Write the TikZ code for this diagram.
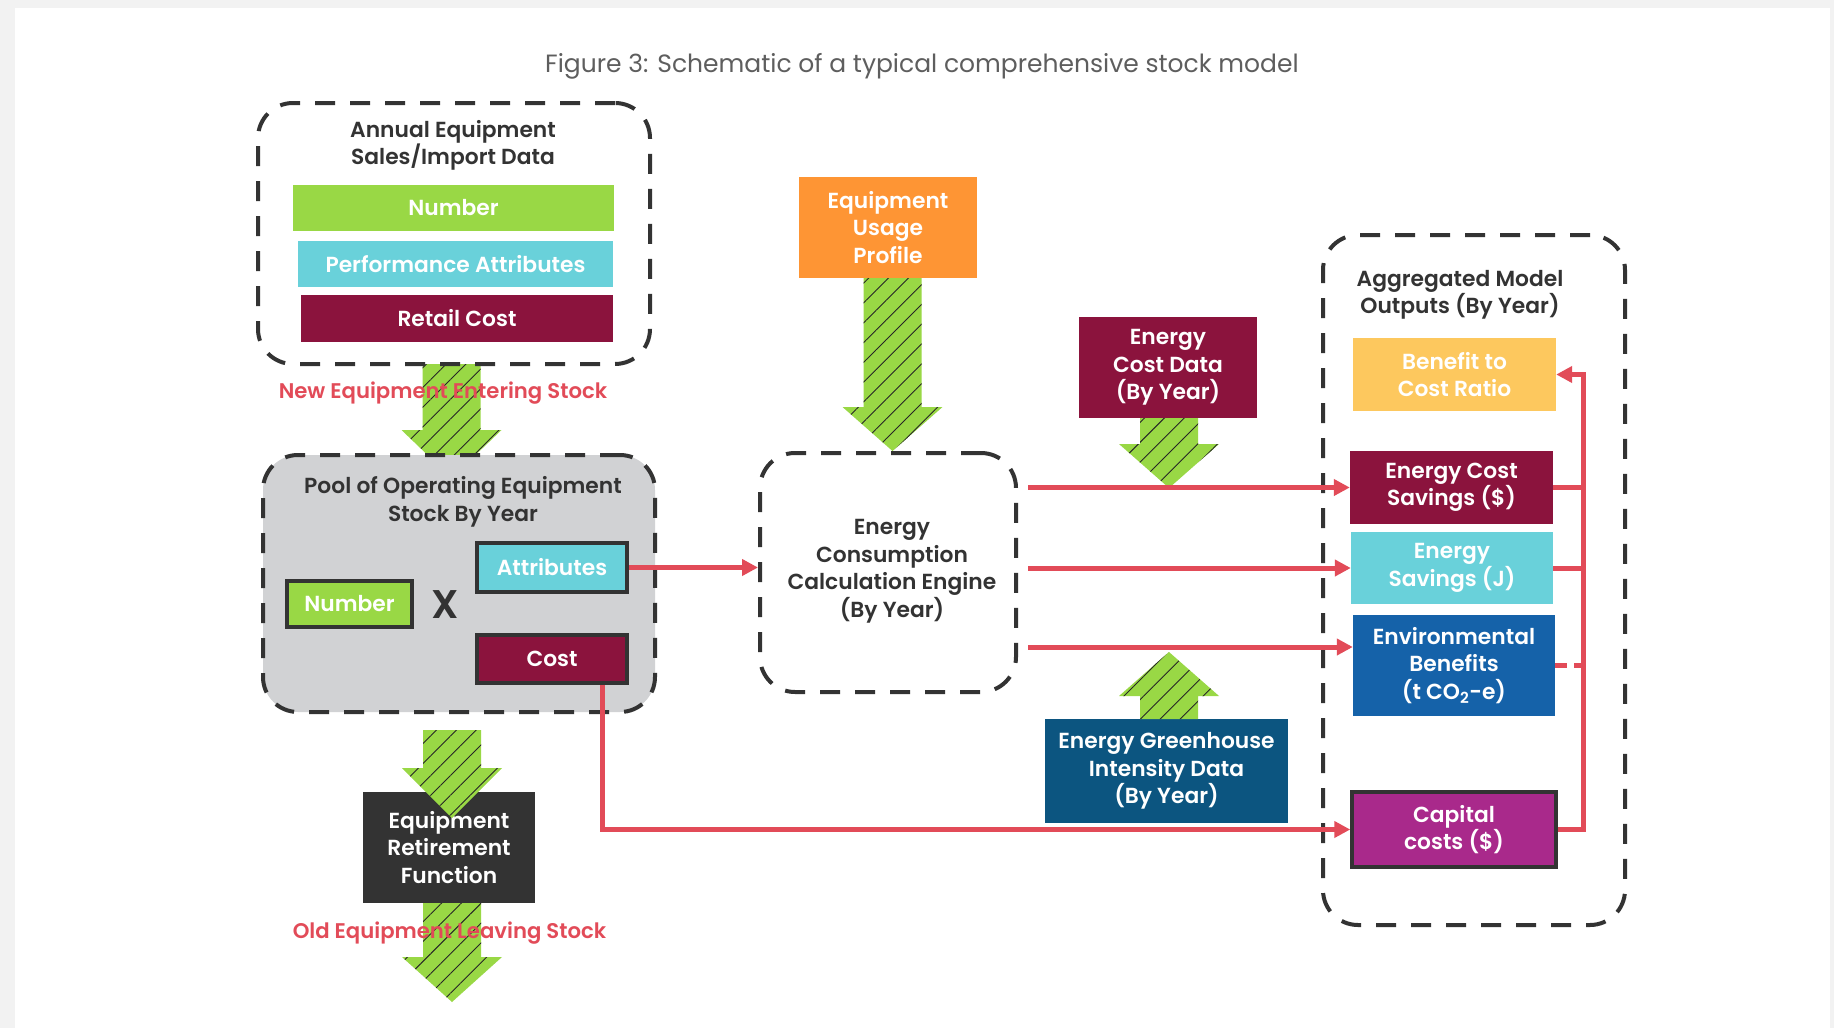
\documentclass[tikz,border=0pt]{standalone}
\usepackage{fontspec}
\setmainfont{Poppins}[BoldFont={Poppins SemiBold}]
\usetikzlibrary{calc}
\usetikzlibrary{arrows.meta}
\usetikzlibrary{patterns.meta}

\definecolor{pagegray}{HTML}{F2F2F2}
\definecolor{ink}{HTML}{333333}
\definecolor{capgray}{HTML}{5E5E5E}
\definecolor{leaf}{HTML}{99D845}
\definecolor{aqua}{HTML}{69D1DA}
\definecolor{wine}{HTML}{8B133D}
\definecolor{amber}{HTML}{FE9534}
\definecolor{honey}{HTML}{FDC85E}
\definecolor{petrol}{HTML}{0C5580}
\definecolor{cobalt}{HTML}{1562A9}
\definecolor{plum}{HTML}{A9298B}
\definecolor{poolgray}{HTML}{D1D2D4}
\definecolor{flowred}{HTML}{E24B58}

\begin{document}
\begin{tikzpicture}[x=1pt, y=-1pt,
    dbox/.style={draw=ink, line width=4pt, dash pattern=on 20pt off 15pt, rounded corners=35pt},
    heading/.style={font=\fontsize{21.8}{27.5}\selectfont\bfseries, text=ink, align=center},
    lab/.style={font=\fontsize{21.8}{27.5}\selectfont\bfseries, text=white, align=center, inner sep=0pt},
    framed/.style={draw=ink, line width=3.5pt},
    redtext/.style={font=\fontsize{21.2}{27}\selectfont\bfseries, text=flowred},
    redline/.style={draw=flowred, line width=5pt},
    flow/.style={redline, -{Triangle[length=16pt,width=16pt]}},
    hatch/.style={fill=leaf, postaction={pattern={Lines[angle=45,distance=14pt,line width=0.9pt]}, pattern color=black!85}}]

    \useasboundingbox (0,0) rectangle (1834,1028);
    \fill[pagegray] (0,0) rectangle (1834,1028);
    \fill[white] (15,8) rectangle (1830,1028);

    \node[font=\fontsize{25}{30}\selectfont, text=capgray] (caption) at (922,66) {Figure 3: Schematic of a typical comprehensive stock model};

    % new equipment arrow, goes under the pool
    \path[hatch] (422.5,364) -- (480.5,364) -- (480.5,430) -- (501.5,430) -- (451.5,478) -- (401.5,430) -- (422.5,430) -- cycle;

    % sales data
    \node[dbox, minimum width=392pt, minimum height=261pt] (sales) at (454,233.5) {};
    \node[heading] (salestitle) at (453,145.5) {Annual Equipment\\Sales/Import Data};
    \node[lab, fill=leaf, minimum width=321pt, minimum height=46pt] (snum) at (453.5,208) {Number};
    \node[lab, fill=aqua, minimum width=315pt, minimum height=46pt] (sperf) at (455.5,264) {Performance Attributes};
    \node[lab, fill=wine, minimum width=312pt, minimum height=47pt] (sretail) at (457,318.5) {Retail Cost};

    % pool of stock
    \node[dbox, fill=poolgray, minimum width=392pt, minimum height=257pt] (pool) at (459,583.5) {};
    \node[heading] (pooltitle) at (463,502) {Pool of Operating Equipment\\Stock By Year};
    \node[lab, framed, fill=leaf, minimum width=125pt, minimum height=46pt] (pnum) at (349.5,604) {Number};
    \node[font=\fontsize{40}{42}\selectfont\bfseries, text=ink] (times) at (445,605) {X};
    \node[lab, framed, fill=aqua, minimum width=150pt, minimum height=49pt] (pattr) at (552,567.5) {Attributes};
    \node[lab, framed, fill=wine, minimum width=150pt, minimum height=48pt] (pcost) at (552,659) {Cost};

    \node[lab, fill=ink, minimum width=172pt, minimum height=111pt] (retire) at (449,847.5) {Equipment\\Retirement\\Function};

    % engine and inputs
    \node[lab, fill=amber, minimum width=178pt, minimum height=101pt] (usage) at (888,227.5) {Equipment\\Usage\\Profile};
    \node[dbox, minimum width=256pt, minimum height=239pt] (engine) at (888,572.5) {};
    \node[heading] (enginetext) at (892,571) {Energy\\Consumption\\Calculation Engine\\(By Year)};
    \node[lab, fill=wine, minimum width=178pt, minimum height=101pt] (costdata) at (1168,367.5) {Energy\\Cost Data\\(By Year)};
    \node[lab, fill=petrol, minimum width=243pt, minimum height=104pt] (ghg) at (1166.5,771) {Energy Greenhouse\\Intensity Data\\(By Year)};

    % outputs
    \node[dbox, minimum width=302pt, minimum height=690pt] (outputs) at (1474,580) {};
    \node[heading] (outtitle) at (1460,295) {Aggregated Model\\Outputs (By Year)};
    \node[lab, fill=honey, minimum width=203pt, minimum height=73pt] (ratio) at (1454.5,374.5) {Benefit to\\Cost Ratio};
    \node[lab, fill=wine, minimum width=203pt, minimum height=73pt] (costsave) at (1451.5,487.5) {Energy Cost\\Savings (\$)};
    \node[lab, fill=aqua, minimum width=202pt, minimum height=72pt] (ensave) at (1452,568) {Energy\\Savings (J)};
    \node[lab, fill=cobalt, minimum width=202pt, minimum height=101pt] (envben) at (1454,665.5) {Environmental\\Benefits\\(t CO\textsubscript{2}-e)};
    \node[lab, framed, fill=plum, minimum width=204pt, minimum height=75pt] (capital) at (1454,829.5) {Capital\\costs (\$)};

    % hatched arrows
    \path[hatch] (423,730) -- (481,730) -- (481,768) -- (502,768) -- (452,818) -- (402,768) -- (423,768) -- cycle;
    \path[hatch] (423,903) -- (481,903) -- (481,957) -- (502,957) -- (452,1002) -- (402,957) -- (423,957) -- cycle;
    \path[hatch] (863.5,278) -- (921.5,278) -- (921.5,407) -- (942.5,407) -- (892.5,451) -- (842.5,407) -- (863.5,407) -- cycle;
    \path[hatch] (1140,418) -- (1198,418) -- (1198,444) -- (1219,444) -- (1169,488) -- (1119,444) -- (1140,444) -- cycle;
    \path[hatch] (1140,719) -- (1198,719) -- (1198,696) -- (1219,696) -- (1169,652) -- (1119,696) -- (1140,696) -- cycle;

    \node[redtext] (newlabel) at (443,393) {New Equipment Entering Stock};
    \node[redtext] (oldlabel) at (449.5,933) {Old Equipment Leaving Stock};

    % red flows
    \coordinate (split) at ($(engine.east)+(10,0)$);
    \coordinate (envin) at ($(envben.west)+(0,-18.5)$);
    \coordinate (bus) at ($(ratio.east)+(27,0)$);
    \draw[flow] (pattr.east) -- (pattr.east -| engine.west);
    \draw[flow] (split |- costsave.west) -- (costsave.west);
    \draw[flow] (split |- ensave.west) -- (ensave.west);
    \draw[flow] (split |- envin) -- (envin);
    \draw[flow] ($(pcost.south)+(50,0)$) |- (capital.west);
    \draw[redline] (costsave.east) -- (costsave.east -| bus);
    \draw[redline] (ensave.east) -- (ensave.east -| bus);
    \draw[redline, dash pattern=on 12pt off 7pt] (envben.east) -- (envben.east -| bus);
    \draw[flow] (capital.east) -| (bus) -- (ratio.east);

\end{tikzpicture}
\end{document}
